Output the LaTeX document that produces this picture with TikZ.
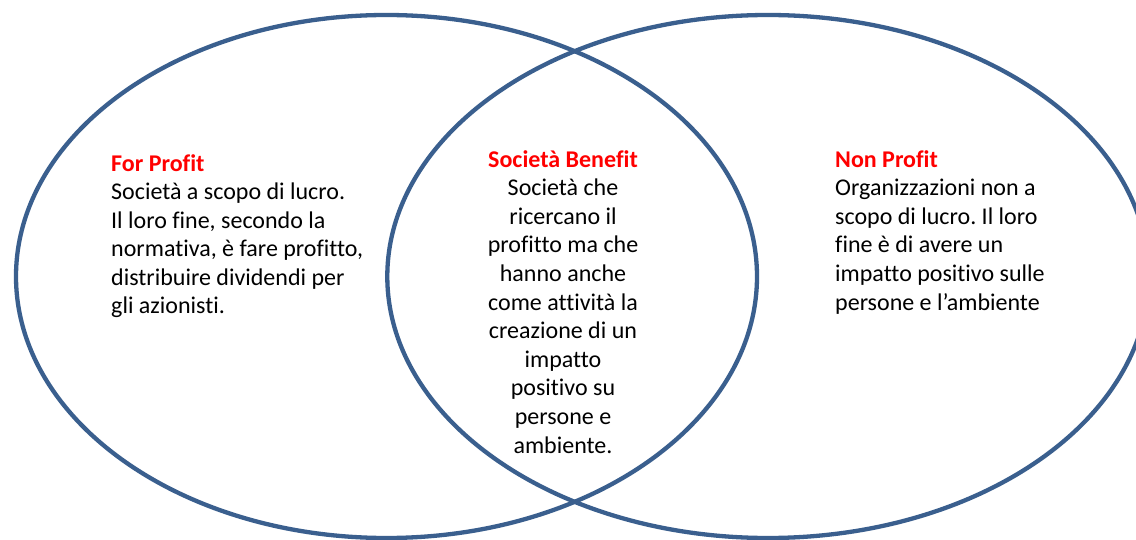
\documentclass[tikz,border=0pt]{standalone}
\usepackage{fontspec}
\setmainfont{Carlito}[Ligatures=NoCommon]
\frenchspacing
\definecolor{ringblue}{HTML}{3A5F8E}
\definecolor{titlered}{HTML}{FF0000}
\tikzset{
  ring/.style={draw=ringblue, line width=4.3pt},
  txt/.style={inner sep=0pt, font=\fontsize{24}{28.6}\selectfont},
}
\newcommand{\ttl}[1]{{\color{titlered}\bfseries #1}}
\begin{document}
\begin{tikzpicture}[x=1pt,y=-1pt]
\useasboundingbox (0,0) rectangle (1136,540);
\clip (0,0) rectangle (1136,540);
\fill[white] (0,0) rectangle (1136,540);
\draw[ring] (386.5,276.5) ellipse [x radius=370.5pt, y radius=261.5pt];
\draw[ring] (768,276.5) ellipse [x radius=380.7pt, y radius=261.5pt];
% anchor "base" is the baseline of the last line
\node[txt, anchor=base west, align=left] (forprofit) at (111,314)
  {\ttl{For Profit}\\Società a scopo di lucro.\\Il loro fine, secondo la\\normativa, è fare profitto,\\distribuire dividendi per\\gli azionisti.};
\node[txt, anchor=base, align=center] (benefit) at (563,453)
  {\ttl{Società Benefit}\\Società che\\ricercano il\\profitto ma che\\hanno anche\\come attività la\\creazione di un\\impatto\\positivo su\\persone e\\ambiente.};
\node[txt, anchor=base west, align=left] (nonprofit) at (835,310)
  {\ttl{Non Profit}\\Organizzazioni non a\\scopo di lucro. Il loro\\fine è di avere un\\impatto positivo sulle\\persone e l’ambiente};
\end{tikzpicture}
\end{document}
